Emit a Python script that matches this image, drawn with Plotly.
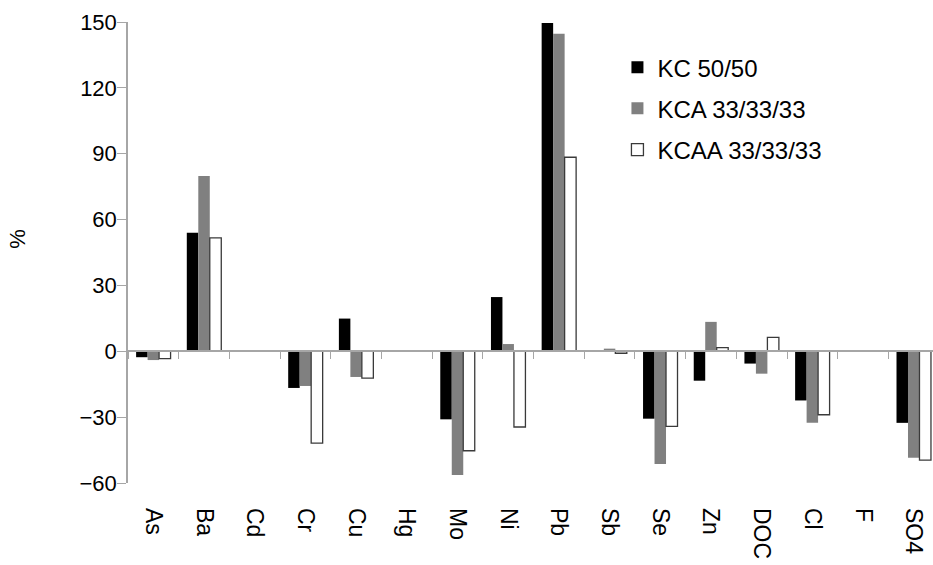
import plotly.graph_objects as go

# Change in leached concentration (%) per element/parameter for three mixes
categories = ["As", "Ba", "Cd", "Cr", "Cu", "Hg", "Mo", "Ni", "Pb", "Sb",
              "Se", "Zn", "DOC", "Cl", "F", "SO4"]

kc_50_50 = [-2.7, 54.0, 0, -16.7, 14.9, 0, -31.0, 24.7, 149.5, 0,
            -30.7, -13.4, -5.6, -22.4, 0, -32.6]
kca_33 = [-4.0, 79.8, 0, -15.8, -11.7, 0, -56.3, 3.3, 144.6, 1.2,
          -51.3, 13.4, -10.2, -32.6, 0, -48.5]
kcaa_33 = [-3.3, 51.7, 0, -41.8, -12.2, 0, -45.3, -34.5, 88.4, -0.9,
           -34.2, 1.7, 6.3, -28.9, 0, -49.6]

y_ticks = [-60, -30, 0, 30, 60, 90, 120, 150]

FONT = "Liberation Sans, Arial, sans-serif"
AXIS_GREY = "#a6a6a6"

fig = go.Figure()
series = [
    ("KC 50/50", kc_50_50, "#000000", "#000000", 0),
    ("KCA 33/33/33", kca_33, "#808080", "#808080", 0),
    ("KCAA 33/33/33", kcaa_33, "#ffffff", "#3a3a3a", 1.3),
]
for i, (name, vals, fill, line, lw) in enumerate(series):
    fig.add_trace(go.Bar(
        name=name, x=categories, y=vals,
        marker=dict(color=fill, line=dict(color=line, width=lw)),
        legendgroup=f"g{i}",
    ))

# Category axis drawn along y = 0, with ticks on the category boundaries
fig.add_trace(go.Scatter(
    x=categories, y=[None] * len(categories), xaxis="x2",
    mode="markers", showlegend=False, hoverinfo="skip",
))

y_min, y_max = -60, 150
x_range = [-0.5, 15.38]

fig.update_layout(
    width=933, height=565,
    margin=dict(l=128, r=0, t=22, b=82),
    paper_bgcolor="white", plot_bgcolor="white",
    barmode="group", bargap=0.32, bargroupgap=0,
    font=dict(family=FONT, color="#000000"),
    showlegend=True,
    legend=dict(
        x=0.608, y=0.95, xanchor="left", yanchor="top",
        font=dict(size=24, family=FONT),
        bgcolor="rgba(0,0,0,0)", borderwidth=0,
        tracegroupgap=7, itemwidth=30,
    ),
    xaxis=dict(
        type="category", categoryarray=categories, range=x_range,
        showline=False, ticks="", showgrid=False, zeroline=False,
        tickangle=90, tickfont=dict(size=23, family=FONT),
        ticklabelstandoff=24,
    ),
    xaxis2=dict(
        type="category", categoryarray=categories, range=x_range,
        overlaying="x", anchor="free",
        position=(0 - y_min) / (y_max - y_min),
        showline=True, linecolor=AXIS_GREY, linewidth=1.5,
        ticks="outside", tickson="boundaries", ticklen=7,
        tickcolor=AXIS_GREY, tickwidth=1,
        showticklabels=False, showgrid=False, zeroline=False,
    ),
    yaxis=dict(
        range=[y_min, y_max], tickvals=y_ticks,
        showline=True, linecolor=AXIS_GREY, linewidth=1.5,
        ticks="outside", ticklen=9, tickcolor=AXIS_GREY, tickwidth=1,
        showgrid=False, zeroline=False,
        tickfont=dict(size=22, family=FONT),
        ticklabelstandoff=-4,
    ),
    annotations=[dict(
        text="%", xref="paper", yref="paper", x=0, y=0.53,
        xanchor="center", yanchor="middle", xshift=-110,
        textangle=-90, showarrow=False, font=dict(size=22, family=FONT),
    )],
)

fig.write_html("out.html")
